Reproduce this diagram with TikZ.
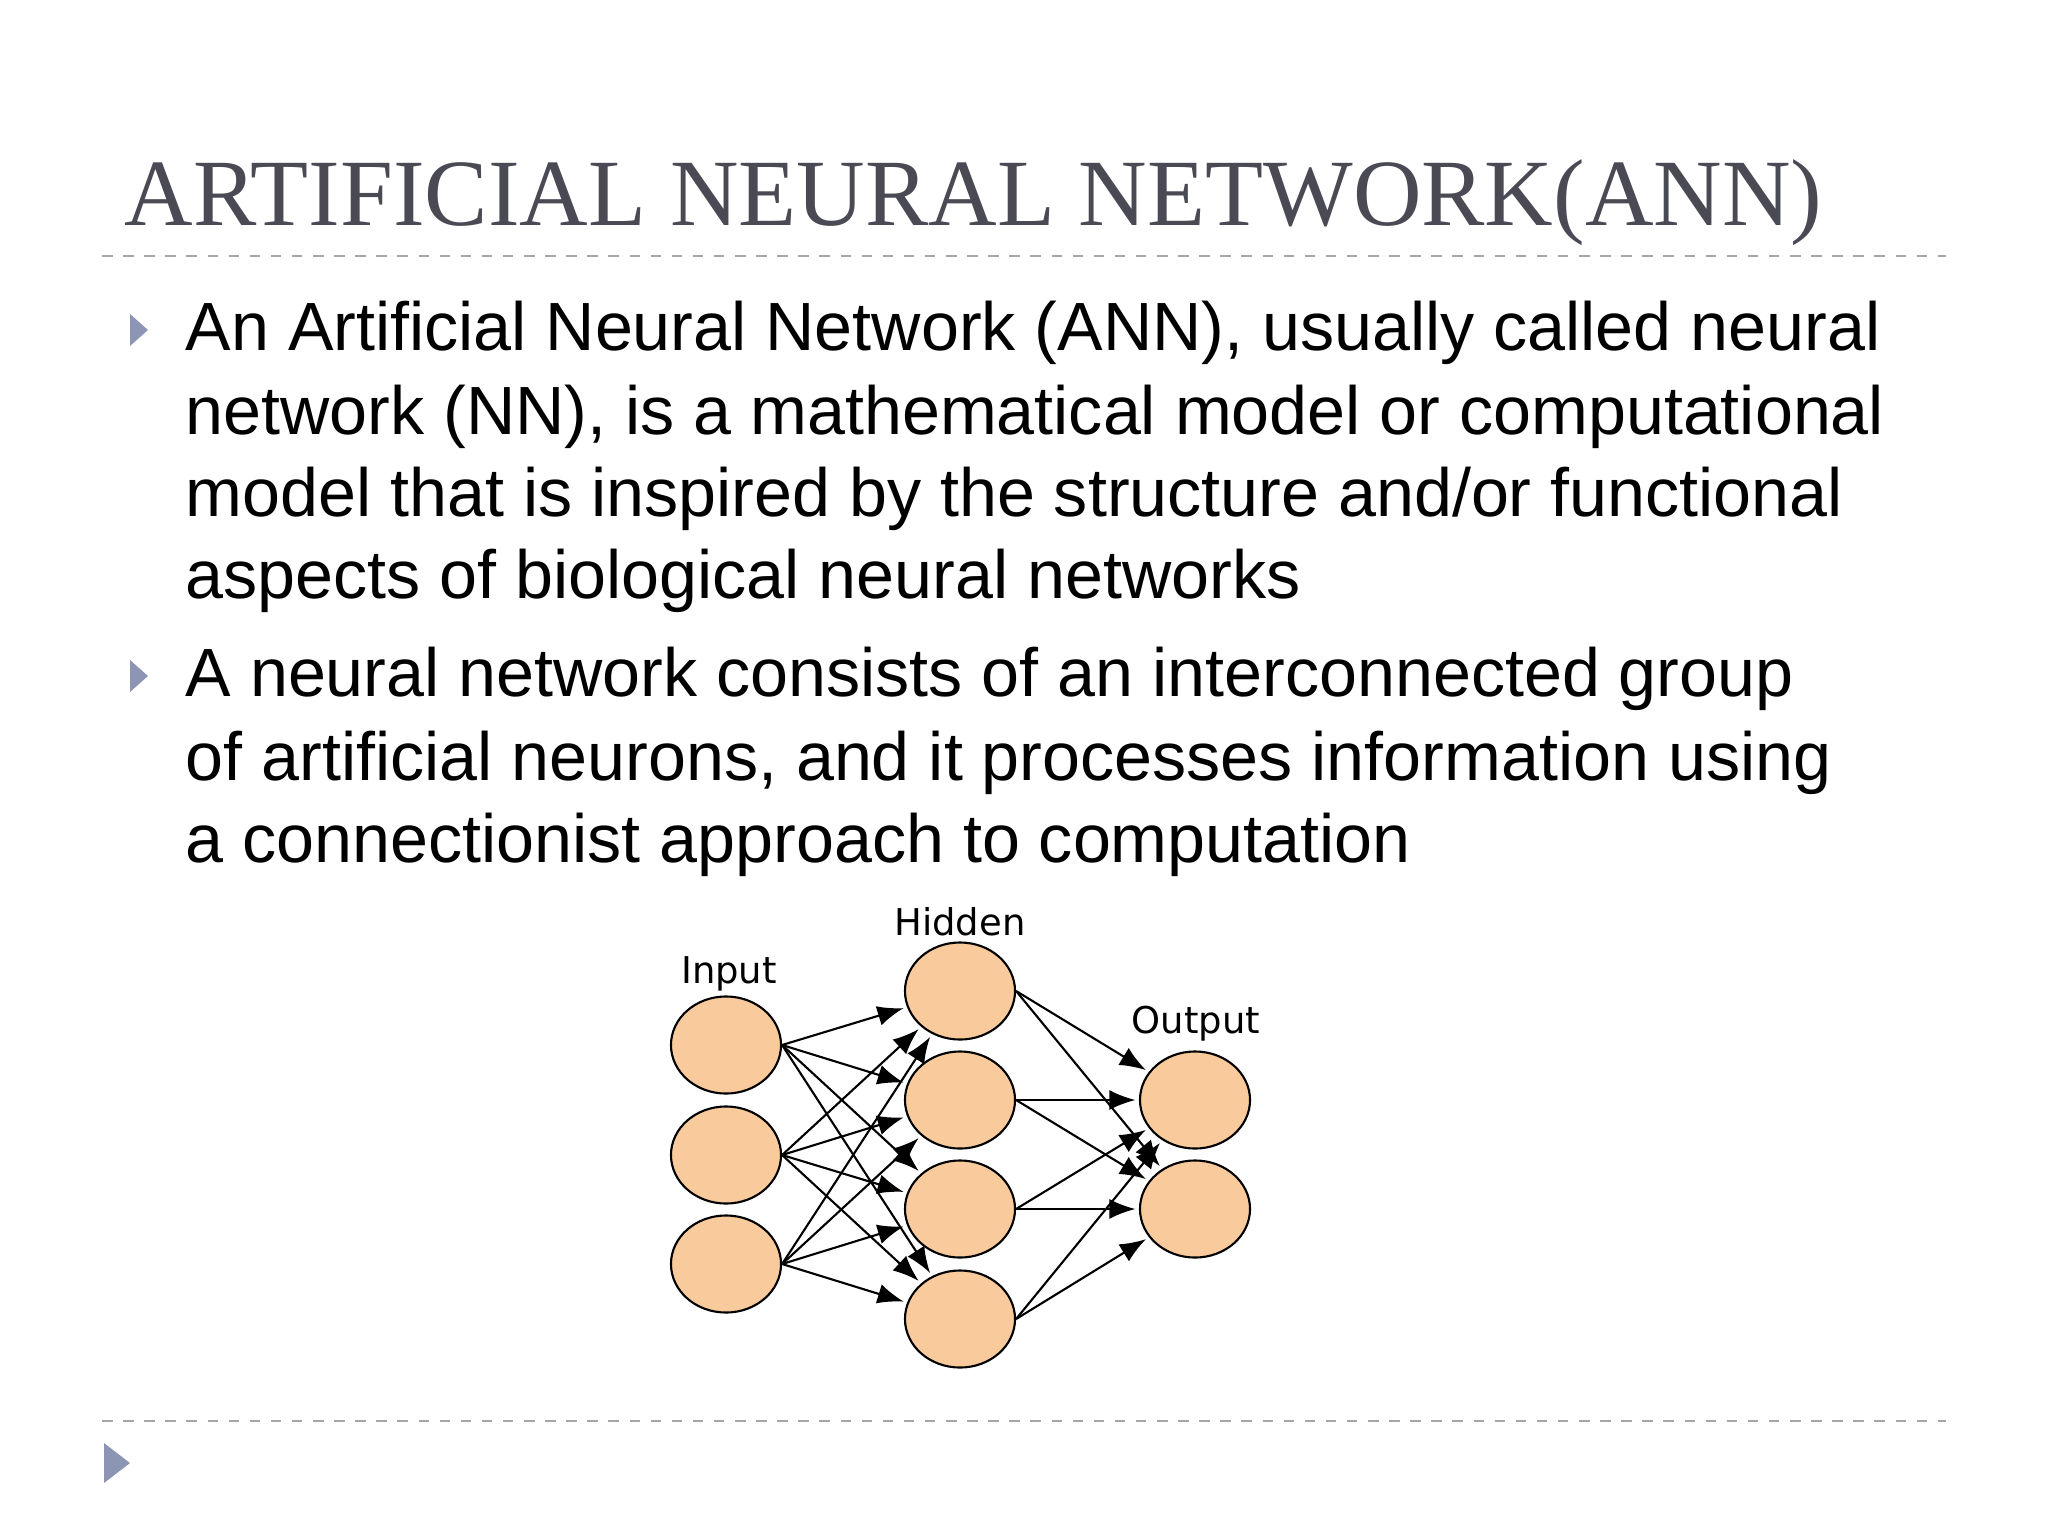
\documentclass[tikz,border=0pt]{standalone}
\usepackage{fontspec}
\setmainfont{Liberation Sans}
\newfontfamily\titlefont{Liberation Serif}
\newfontfamily\labelfont{DejaVu Sans}
\usetikzlibrary{arrows.meta}
\definecolor{titlegray}{HTML}{4A4A55}
\definecolor{bulletblue}{HTML}{8C96B4}
\definecolor{neuronfill}{HTML}{F9CB9C}
\tikzstyle{neuron} = [ellipse, draw=black, line width=0.6pt, fill=neuronfill, minimum width=1.1cm, minimum height=0.97cm, inner sep=0pt]
\tikzstyle{ligne} = [anchor=base west, inner sep=0pt, font=\fontsize{19.4pt}{24pt}\selectfont]
\tikzstyle{fleche} = [-{Latex[length=2.6mm,width=2mm]}, shorten >=1pt, line width=0.6pt]
\tikzstyle{couche} = [font=\labelfont\fontsize{10.5pt}{12pt}\selectfont, inner sep=0pt]
\usetikzlibrary{shapes.geometric}

\begin{document}
\begin{tikzpicture}[x=0.01cm, y=-0.01cm]
        \useasboundingbox (0,0) rectangle (2048,1536);

        \node (titre) [anchor=base west, inner sep=0pt, text=titlegray, font=\titlefont\fontsize{27pt}{30pt}\selectfont] at (124,225) {ARTIFICIAL NEURAL NETWORK(ANN)};
        \draw [gray!70, dashed] (102,256) -- (1946,256);
        \draw [gray!70, dashed] (102,1421) -- (1946,1421);

        % puces
        \fill [bulletblue] (130,314) -- (148,330) -- (130,346) -- cycle;
        \fill [bulletblue] (130,660) -- (148,676) -- (130,692) -- cycle;
        \fill [bulletblue] (104,1443) -- (130,1463) -- (104,1483) -- cycle;

        \node (l1) [ligne] at (185,350) {An Artificial Neural Network (ANN), usually called neural};
        \node (l2) [ligne] at (185,434) {network (NN), is a mathematical model or computational};
        \node (l3) [ligne] at (185,516) {model that is inspired by the structure and/or functional};
        \node (l4) [ligne] at (185,598) {aspects of biological neural networks};
        \node (l5) [ligne] at (185,696) {A neural network consists of an interconnected group};
        \node (l6) [ligne] at (185,780) {of artificial neurons, and it processes information using};
        \node (l7) [ligne] at (185,862) {a connectionist approach to computation};

        % reseau
        \node (I1) [neuron] at (726,1045) {};
        \node (I2) [neuron] at (726,1155) {};
        \node (I3) [neuron] at (726,1264) {};
        \node (H1) [neuron] at (960,991) {};
        \node (H2) [neuron] at (960,1100) {};
        \node (H3) [neuron] at (960,1209) {};
        \node (H4) [neuron] at (960,1319) {};
        \node (O1) [neuron] at (1195,1100) {};
        \node (O2) [neuron] at (1195,1209) {};

        \node (lin) [couche] at (729,974) {Input};
        \node (lhid) [couche] at (960,922) {Hidden};
        \node (lout) [couche] at (1196,1024) {Output};

        \foreach \i in {1,2,3}
            \foreach \h in {1,2,3,4}
                \draw [fleche] (I\i.east) -- (H\h);
        \foreach \h in {1,2,3,4}
            \foreach \o in {1,2}
                \draw [fleche] (H\h.east) -- (O\o);

    \end{tikzpicture}
\end{document}
